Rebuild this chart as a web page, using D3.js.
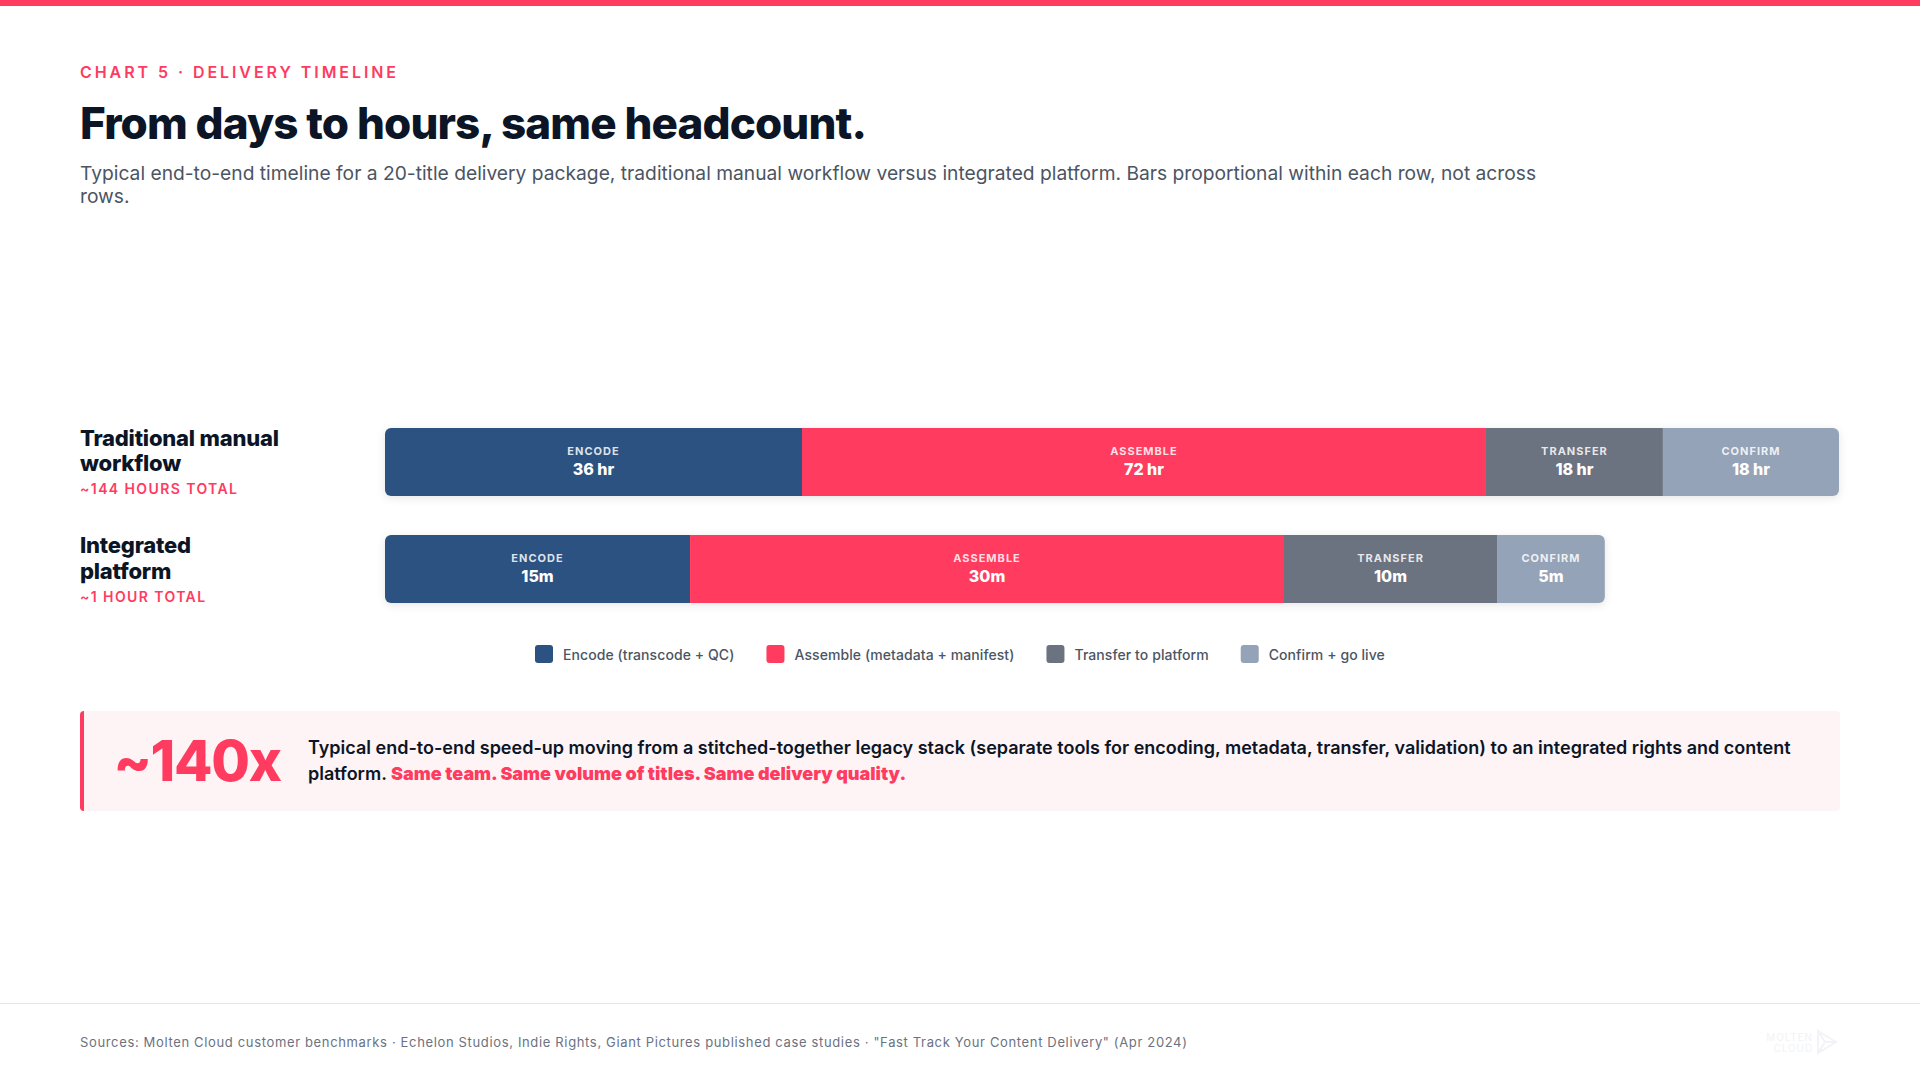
<!DOCTYPE html>
<html><head><meta charset="utf-8">
<script src="https://cdn.jsdelivr.net/npm/d3@7"></script>
<style>
html,body{margin:0;padding:0;background:#fff;}
svg{display:block;font-family:Inter,sans-serif;background:#fff;}
</style></head><body>
<svg id="c" width="1920" height="1080"></svg>
<script>
const stages = ["ENCODE","ASSEMBLE","TRANSFER","CONFIRM"];
const stageColors = ["#2c5282","#ff3b5f","#6b7280","#94a3b8"];
const rowTitles = [["Traditional manual","workflow"],["Integrated","platform"]];
const rowTotals = ["~144 HOURS TOTAL","~1 HOUR TOTAL"];
const manualLabels = ["36 hr","72 hr","18 hr","18 hr"];
const platformLabels = ["15m","30m","10m","5m"];
// drawn length of each segment, as % of the full track
const manualShare = [28.68,47.04,12.17,12.11];
const platformShare = [20.98,40.85,14.65,7.42];
const legendLabels = ["Encode (transcode + QC)","Assemble (metadata + manifest)","Transfer to platform","Confirm + go live"];
const subtitleLines = ["Typical end-to-end timeline for a 20-title delivery package, traditional manual workflow versus integrated platform. Bars proportional within each row, not across","rows."];

const RED = "#ff3b5f", INK = "#0b1526";
const svg = d3.select("#c");
const T = (s,x,y,size,weight,fill,ls) => svg.append("text").attr("x",x).attr("y",y)
  .attr("font-size",size).attr("font-weight",weight).attr("fill",fill)
  .attr("letter-spacing",ls||0).text(s);

svg.append("rect").attr("width",1920).attr("height",6).attr("fill",RED);
T("CHART 5 · DELIVERY TIMELINE",80,78,16,600,RED,2.93);
T("From days to hours, same headcount.",80,139,44,800,INK,-0.88);
subtitleLines.forEach((l,i)=>T(l,80,180+i*23,19.23,400,"#4b5563"));

const x = d3.scaleLinear().domain([0,100]).range([385,1839]);
const rowY = d3.scalePoint().domain([0,1]).range([428,535]);
const BAR_H = 68;
const defs = svg.append("defs");
const rows = [manualShare,platformShare];
const rowLabels = [manualLabels,platformLabels];

rows.forEach((share,r)=>{
  const y0 = rowY(r);
  const starts = d3.cumsum([0,...share]);
  const total = starts[starts.length-1];
  const lx = 80;
  rowTitles[r].forEach((l,i)=>T(l,lx,y0+18+i*(r?25.5:25),22,800,INK,-0.2));
  T(rowTotals[r],lx,y0+(r?66.5:66),14,600,RED,1.4);
  defs.append("clipPath").attr("id","clip"+r).append("rect")
    .attr("x",x(0)).attr("y",y0).attr("width",x(total)-x(0)).attr("height",BAR_H).attr("rx",6);
  svg.append("rect").attr("x",x(0)).attr("y",y0).attr("width",x(total)-x(0)).attr("height",BAR_H)
    .attr("rx",6).attr("fill","#fff").style("filter","drop-shadow(0 2px 4px rgba(0,0,0,0.10))");
  const g = svg.append("g").attr("clip-path",`url(#clip${r})`);
  g.selectAll("rect").data(share).join("rect")
    .attr("x",(d,i)=>x(starts[i])).attr("y",y0)
    .attr("width",d=>x(d)-x(0)).attr("height",BAR_H)
    .attr("fill",(d,i)=>stageColors[i]);
  const lab = svg.append("g").attr("text-anchor","middle");
  share.forEach((d,i)=>{
    const cx = x(starts[i]+d/2);
    lab.append("text").attr("x",cx).attr("y",y0+27).attr("font-size",11).attr("font-weight",700)
      .attr("letter-spacing",1.0).attr("fill","rgba(255,255,255,0.85)").text(stages[i]);
    lab.append("text").attr("x",cx).attr("y",y0+47).attr("font-size",16).attr("font-weight",800)
      .attr("fill","#fff").text(rowLabels[r][i]);
  });
});

// legend flows from measured text lengths
const leg = svg.append("g");
const items = legendLabels.map((l,i)=>{
  const g = leg.append("g");
  g.append("rect").attr("y",645).attr("width",18).attr("height",18).attr("rx",3).attr("fill",stageColors[i]);
  const t = g.append("text").attr("x",28).attr("y",660).attr("font-size",14).attr("font-weight",500)
    .attr("letter-spacing",0.08).attr("fill","#4b5563").text(l);
  return {g,w:28+t.node().getComputedTextLength()};
});
let cur = 535;
items.forEach(it=>{it.g.attr("transform",`translate(${cur},0)`);cur+=it.w+32;});

// callout
svg.append("rect").attr("x",80).attr("y",711).attr("width",1760).attr("height",100).attr("rx",4).attr("fill","#fef3f5");
defs.append("clipPath").attr("id","cc").append("rect").attr("x",80).attr("y",711).attr("width",1760).attr("height",100).attr("rx",4);
svg.append("rect").attr("x",80).attr("y",711).attr("width",4).attr("height",100).attr("fill",RED).attr("clip-path","url(#cc)");
T("~140x",113.5,781,56,800,RED,-1.3);
T("Typical end-to-end speed-up moving from a stitched-together legacy stack (separate tools for encoding, metadata, transfer, validation) to an integrated rights and content",308,754,18,600,INK);
const l2 = T("platform. ",308,780,18,600,INK).style("white-space","pre");
l2.append("tspan").attr("font-weight",900).attr("fill",RED).text("Same team. Same volume of titles. Same delivery quality.");

// footer
svg.append("line").attr("x1",0).attr("x2",1920).attr("y1",1003.5).attr("y2",1003.5).attr("stroke","#e5e7eb");
T("Sources: Molten Cloud customer benchmarks · Echelon Studios, Indie Rights, Giant Pictures published case studies · \"Fast Track Your Content Delivery\" (Apr 2024)",80,1047,13,400,"#6b7280",0.65);
const logo = svg.append("g").attr("fill","#f1f3f6");
logo.append("text").attr("x",1813).attr("y",1041).attr("text-anchor","end").attr("font-size",10).attr("letter-spacing",0.9).text("MOLTEN");
logo.append("text").attr("x",1813).attr("y",1052).attr("text-anchor","end").attr("font-size",10).attr("letter-spacing",0.9).text("CLOUD");
logo.append("path").attr("fill","none").attr("stroke","#f1f3f6").attr("stroke-width",2)
  .attr("d","M1818 1031 L1836 1042 L1818 1053 Z M1818 1031 L1825 1042 L1818 1053 M1825 1042 L1836 1042");
</script>
</body></html>
